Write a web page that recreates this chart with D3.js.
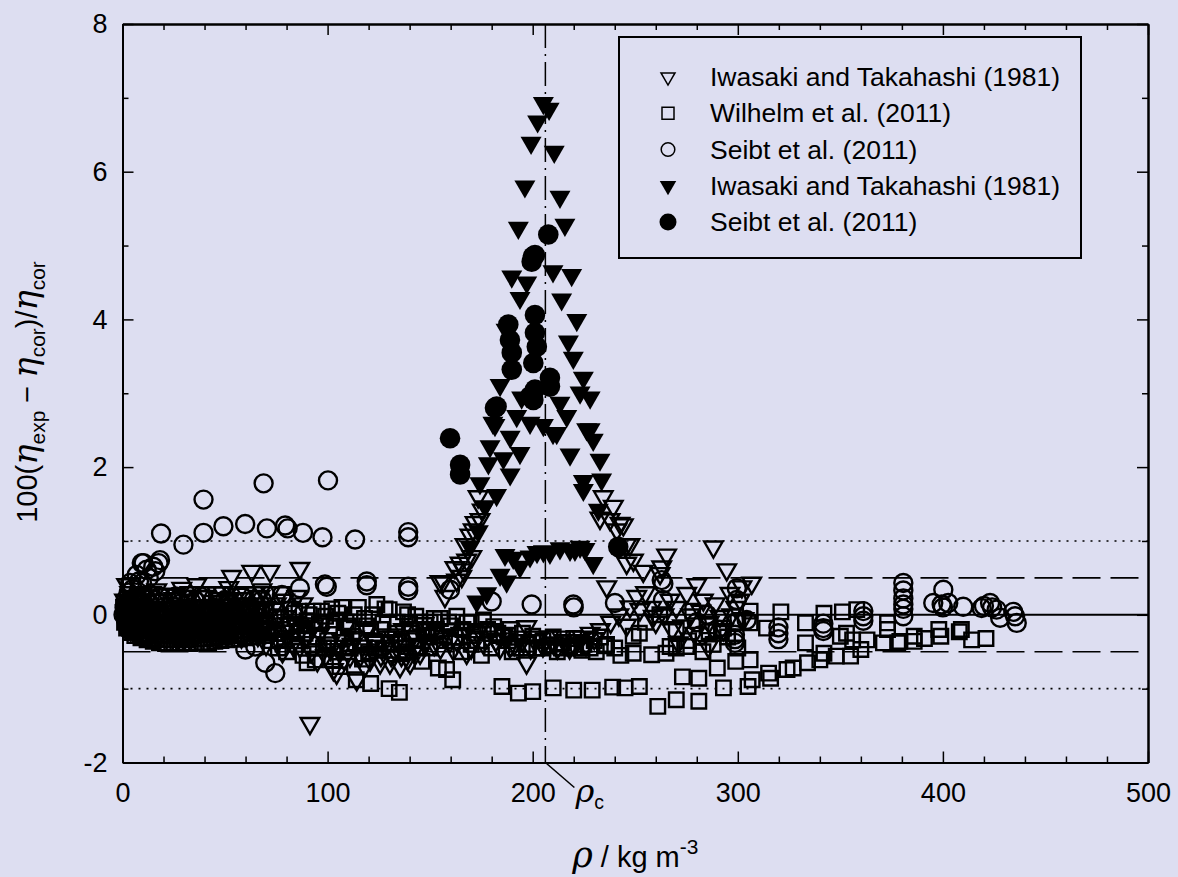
<!DOCTYPE html>
<html>
<head>
<meta charset="utf-8">
<script src="https://cdnjs.cloudflare.com/ajax/libs/d3/7.8.5/d3.min.js"></script>
<style>
html, body { margin: 0; padding: 0; background: #dddef1; }
svg { display: block; }
</style>
</head>
<body>
<svg id="chart" width="1178" height="877"></svg>
<script>
// axis ticks
var xMajorTicks = [0, 100, 200, 300, 400, 500];
var xMinorTicks = [20, 40, 60, 80, 120, 140, 160, 180, 220, 240, 260, 280, 320, 340, 360, 380, 420, 440, 460, 480];
var yMajorTicks = [-2, 0, 2, 4, 6, 8];
var yMinorTicks = [-1, 1, 3, 5, 7];

// reference lines
var solidLevels = [0];
var dashedLevels = [-0.5, 0.5];
var dottedLevels = [-1, 1];
var rhoC = 206.18;

var legendLabels = [
    "Iwasaki and Takahashi (1981)",
    "Wilhelm et al. (2011)",
    "Seibt et al. (2011)",
    "Iwasaki and Takahashi (1981)",
    "Seibt et al. (2011)"
];

// Iwasaki and Takahashi, open triangles [rho, dev]
var iwasakiOpen = [
    [1,0.2],[2,0.41],[2.5,-0.05],[3,0.1],[4,0.25],[5,0.0],[6,0.15],[7,-0.1],[8,0.3],[9,0.05],[10,0.2],[11,-0.15],
    [12,-0.05],[13,0.25],[15,0.1],[16.7,0.34],[18,0.0],[19,-0.2],[20,0.2],[22,-0.1],[24,0.15],[26,0.28],[28.9,0.36],
    [30,0.05],[31,-0.22],[32,0.2],[34,-0.08],[36.2,0.41],[38,0.12],[40,0.25],[42,-0.05],[43,-0.25],[44,0.18],[46,0.3],
    [48,0.08],[50,-0.15],[51.8,0.37],[53.2,0.52],[55,0.15],[57,-0.1],[59,0.22],[61,0.05],[62,-0.2],[63,0.59],[65,0.3],
    [68,0.34],[70,0.1],[71.9,0.59],[73,-0.25],[75,0.15],[77,0.3],[80,-0.29],[82,0.1],[84,-0.1],[86.5,0.63],[86.5,-0.43],
    [88,0.15],[90,-0.3],[91.4,-1.47],[93,-0.15],[96.3,-0.25],[98,-0.07],[101,-0.38],[101.5,-0.47],[102.8,-0.74],
    [104.4,-0.79],[107,-0.35],[109,-0.15],[110.9,-0.56],[113,-0.3],[114.2,-0.88],[117,-0.42],[119,-0.2],[120.7,-0.61],
    [123,-0.35],[125.6,-0.65],[128,-0.45],[130.4,-0.65],[132,-0.3],[133,-0.5],[135.3,-0.7],[137,-0.2],[138.6,-0.43],
    [140.2,-0.65],[143,-0.3],[145.1,-0.52],[147,-0.12],[149.9,-0.2],[152,-0.4],[154.8,0.45],[156.3,0.45],[156.4,-0.29],
    [157.2,0.25],[159.7,-0.36],[161.3,-0.47],[162.1,0.64],[162.9,0.47],[164.6,0.7],[165,-0.25],[165.4,0.52],[166.2,0.61],
    [167,0.95],[167.8,0.74],[167.8,-0.52],[169.4,1.08],[170.3,0.79],[171,1.15],[171.9,1.25],[172,-0.3],[173.4,1.6],
    [174.3,1.29],[175.4,1.42],[175.9,-0.38],[180,-0.2],[184,-0.45],[188.9,-0.43],[193,-0.3],[197,-0.65],[197.1,-0.16],
    [201,-0.35],[205,-0.42],[208,-0.3],[212,-0.45],[216,-0.35],[220,-0.4],[224,-0.3],[228,-0.25],[232.8,1.31],[233,-0.2],
    [234.4,1.6],[236.1,0.38],[237.7,1.29],[238,-0.1],[239.3,1.47],[241,1.15],[242,0.0],[242.6,1.24],[244.2,1.22],
    [245.8,0.95],[245.8,0.7],[245.8,-0.14],[247.4,0.95],[247.4,0.11],[249.1,0.74],[250.7,0.25],[252.3,0.07],[253.9,0.59],
    [255,0.3],[258,0.1],[258.8,-0.02],[260,-0.1],[262.1,0.56],[262.9,0.65],[264,0.0],[265.3,0.81],[266.9,0.2],[268,-0.2],
    [270,0.1],[271,-0.38],[273,-0.15],[275.1,0.29],[277,0.0],[279,-0.25],[280,0.41],[282,0.05],[283.2,0.2],[285.6,-0.43],
    [286,-0.1],[288.1,0.92],[289,0.15],[291.3,-0.02],[293,-0.2],[294.6,0.61],[296.2,0.29],[297,0.0],[299,0.1],
    [301.1,0.2],[302,0.38],[303,-0.05],[306.8,0.43],
    [1.5,0.05],[3.5,0.3],[5.5,0.22],[7.5,0.12],[9.5,0.28],[11.5,0.18],[14,0.3],[17,0.2],[21,0.27],[23,0.05],[25,0.22],
    [27,0.12],[29,0.25],[33,0.3],[35,0.12],[37,0.25],[39,0.05],[41,0.3],[45,0.1],[47,0.22],[49,0.3],[52,0.2],[54,0.05],
    [56,0.28],[58,0.1],[60,0.3],[64,0.15],[66,0.05],[67,0.25],[69,-0.1],[72,0.3],[76,0.0],[79,0.2],[81,-0.12],[85,0.25],
    [87,-0.2],
    [4,-0.2],[8,-0.25],[14,-0.28],[17,-0.3],[26,-0.3],[35,-0.3],[38,-0.22],[47,-0.3],[53,-0.25],[58,-0.3],[66,-0.28],
    [70,-0.4],[76,-0.35],[78,-0.5],[83,-0.4],[92,-0.5],[95,-0.62],[99,-0.55],[106,-0.5],[108,-0.6],[112,-0.4],
    [116,-0.55],[118,-0.7],[122,-0.5],[126,-0.55],[129,-0.3],[131,-0.55],[134,-0.35],[136,-0.55],[139,-0.6],[142,-0.5],
    [144,-0.4],[148,-0.35],[151,-0.25],[155,-0.45],[158,-0.2],[163,-0.35],[168,-0.2],[170,-0.45],[174,-0.2],[178,-0.3],
    [182,-0.35],[186,-0.25],[191,-0.4],[195,-0.35],[199,-0.45],[203,-0.3],[210,-0.38],[214,-0.3],[218,-0.45],
    [222,-0.35],[226,-0.4],[230,-0.32]
];

// Wilhelm et al., open squares
var wilhelm = [
    [2,-0.18],[4,-0.24],[6,-0.28],[9,-0.31],[12,-0.34],[15,-0.36],[18,-0.38],[21,-0.39],[24,-0.38],[27,-0.39],[30,-0.38],
    [33,-0.39],[36,-0.38],[39,-0.37],[42,-0.38],[45,-0.36],[48,-0.35],[51,-0.34],[54,-0.33],[57,-0.33],[60,-0.31],
    [63,-0.3],[66,-0.29],[69,-0.28],
    [2.5,-0.12],[4.5,-0.18],[6.5,-0.22],[8.5,-0.26],[10.5,-0.3],[13.5,-0.32],[16.5,-0.33],[19.5,-0.34],[22.5,-0.33],
    [25.5,-0.34],[28.5,-0.33],[31.5,-0.34],[34.5,-0.33],[37.5,-0.32],[40.5,-0.33],[43.5,-0.31],[46.5,-0.3],[49.5,-0.3],
    [52.5,-0.28],[55.5,-0.28],[58.5,-0.26],[61.5,-0.25],[64.5,-0.24],[67.5,-0.23],[70.5,-0.22],
    [1,-0.1],[3,-0.15],[5,-0.2],[7,-0.22],[10,-0.25],[13,-0.27],[16,-0.28],[19,-0.27],[22,-0.29],[25,-0.28],[28,-0.27],
    [31,-0.29],[34,-0.28],[37,-0.26],[40,-0.27],[43,-0.25],[46,-0.24],[49,-0.25],[52,-0.23],[55,-0.22],[58,-0.21],
    [62,-0.2],[65,-0.19],[68,-0.18],
    [1.5,-0.05],[3.5,-0.1],[5.5,-0.14],[7.5,-0.17],[9.5,-0.19],[12.5,-0.21],[15.5,-0.22],[18.5,-0.21],[21.5,-0.23],
    [24.5,-0.22],[27.5,-0.21],[30.5,-0.22],[33.5,-0.21],[36.5,-0.2],[39.5,-0.2],[42.5,-0.19],[45.5,-0.18],[48.5,-0.18],
    [51.5,-0.17],[54.5,-0.16],[57.5,-0.15],[60.5,-0.15],[64,-0.13],[68,-0.12],[72,-0.2],
    [1,0.0],[2,-0.05],[4,-0.08],[6,-0.1],[8,-0.12],[11,-0.14],[14,-0.15],[17,-0.16],[20,-0.15],[23,-0.17],[26,-0.16],
    [29,-0.15],[32,-0.14],[35,-0.15],[38,-0.13],[41,-0.14],[44,-0.12],[47,-0.11],[50,-0.12],[53,-0.1],[56,-0.09],
    [59,-0.1],[63,-0.08],[67,-0.07],
    [0.5,0.1],[2,0.05],[3,0.02],[5,0.0],[7,-0.02],[9,-0.03],[12,-0.04],[15,-0.03],[18,-0.05],[21,-0.04],[24,-0.02],
    [27,-0.04],[30,-0.03],[33,-0.02],[36,-0.03],[39,-0.01],[42,0.0],[45,-0.02],[48,0.01],[51,0.02],[54,0.0],[57,0.03],
    [61,0.02],[65,0.04],
    [1.5,0.08],[4,0.04],[6,0.03],[8,0.02],[10,0.02],[13,0.01],[16,0.02],[19,0.0],[22,0.02],[25,0.03],[29,0.01],[31,0.03],
    [34,0.04],[37,0.03],[41,0.05],[43,0.04],[46,0.05],[50,0.06],[53,0.05],[58,0.07],[62,0.06],[66,0.08],[70,0.05],
    [1,0.15],[3,0.12],[5,0.1],[8,0.08],[11,0.09],[14,0.07],[17,0.08],[20,0.06],[24,0.08],[28,0.07],[32,0.09],[36,0.08],
    [40,0.1],[44,0.09],[48,0.11],[52,0.1],[56,0.12],[60,0.11],
    [72,-0.1],[75,0.05],[78,-0.2],[81,-0.05],[84,0.02],[87,-0.15],[90,-0.08],[93,0.05],[96,-0.12],[99,-0.02],[102,0.08],
    [104,-0.07],[107,0.1],[110,-0.15],[112,-0.29],[115,0.1],[118,-0.05],[121,-0.2],[124,0.14],[127,-0.1],[130,0.07],
    [133,-0.25],[137,0.04],[140,-0.12],[143,-0.02],[147,-0.2],[150,-0.1],[155,-0.05],[160,-0.15],[163,-0.02],
    [168,-0.11],[172,-0.25],[176,-0.07],[181,-0.16],[186,-0.3],[189,-0.2],[195,-0.25],[200,-0.29],[205,-0.35],
    [210,-0.3],[215,-0.38],[220,-0.32],[225,-0.4],[230,-0.35],[235,-0.42],
    [74,-0.25],[77,-0.05],[79,-0.35],[82,-0.15],[85,-0.3],[86,0.05],[89,-0.25],[91,0.0],[92,-0.4],[95,-0.3],[97,0.05],
    [100,-0.35],[101,-0.15],[103,-0.45],[105,0.02],[108,-0.3],[109,-0.1],[111,-0.45],[113,0.0],[116,-0.35],[119,-0.15],
    [120,-0.5],[122,0.0],[123,-0.35],[126,-0.2],[128,0.08],[131,-0.4],[134,-0.1],[136,-0.35],[139,0.0],[141,-0.25],
    [144,-0.45],[145,-0.1],[149,-0.3],[152,-0.05],[153,-0.2],[157,-0.35],[159,-0.1],[162,-0.3],[166,-0.2],[170,-0.1],
    [173,-0.35],[178,-0.2],[183,-0.25],[188,-0.35],[192,-0.45],[198,-0.4],[202,-0.45],[208,-0.42],[214,-0.45],
    [220,-0.45],[228,-0.45],[233,-0.3],[240,-0.45],
    [72,-0.35],[76,-0.45],[80,-0.5],[84,-0.4],[88,-0.55],[90,-0.65],[94,-0.61],[98,-0.45],[102,-0.61],[106,-0.7],
    [110,-0.5],[114,-0.88],[117,-0.6],[121,-0.93],[125,-0.45],[130,-1.0],[135,-1.05],[138,-0.5],[142,-0.35],[146,-0.63],
    [150,-0.45],[154,-0.72],[158,-0.74],[161,-0.88],[165,-0.5],[170,-0.4],[175,-0.55],[180,-0.45],[185,-0.97],
    [190,-0.5],[193,-1.06],[197,-0.45],[200,-1.04],
    [210,-0.99],[220,-1.02],[229,-1.02],[239,-0.98],[245,-0.99],[252,-0.97],[261,-1.24],[270,-1.15],[281,-1.17],
    [273,-0.84],[281,-0.86],[290,-0.72],[293,-0.99],[299,-0.63],[305,-0.97],[306,-0.61],[307,-0.88],[315,-0.79],
    [316,-0.86],[324,-0.74],[327,-0.72],[334,-0.65],[340,-0.61],[342,-0.52],[348,-0.56],[355,-0.56],[360,-0.47],
    [356,-0.34],[363,-0.34],[371,-0.38],[373,-0.2],[378,-0.38],[379,-0.36],[386,-0.29],[386,-0.36],[391,-0.32],
    [398,-0.2],[399,-0.29],[408,-0.23],[409,-0.2],[414,-0.34],[421,-0.32],
    [205,-0.45],[212,-0.5],[218,-0.42],[224,-0.48],[231,-0.5],[236,-0.4],[243,-0.55],[249,-0.29],[249,-0.52],
    [252,-0.25],[258,-0.54],[265,-0.52],[267,-0.43],[270,-0.45],[275,-0.43],[276,-0.35],[283,-0.5],[286,-0.23],
    [288,-0.4],[293,-0.18],[295,-0.3],[300,-0.45],[306,-0.11],
    [255,-0.1],[262,0.0],[270,-0.2],[278,0.05],[285,-0.15],[292,-0.25],[300,-0.1],[306,0.05],[314,-0.18],[321,0.04],
    [333,-0.11],[333,-0.38],[342,0.02],[351,0.04],[353,-0.25],[358,0.07],[350,-0.29],[373,-0.11]
];

// Seibt et al., open circles
var seibtOpen = [
    [0.5,0.0],[1,0.1],[1.5,0.2],[2,0.15],[3,0.3],[3.7,0.43],[5,0.35],[6.9,0.54],[8,0.45],[9.5,0.43],[9.4,0.7],
    [10.3,0.7],[11.8,0.61],[12.8,0.5],[15,0.65],[16,0.59],[17.6,0.7],[18.3,0.74],[18.8,1.1],
    [2,-0.1],[4,0.05],[6,-0.05],[8,0.15],[10,0.1],[13,0.0],[16,0.2],[20,0.1],[24,-0.05],[28,0.15],[32,0.05],[36,0.18],
    [40,-0.1],[44,0.1],[48,0.0],[52,0.15],[56,-0.05],[60,0.1],[64,0.2],[68,0.2],[59.9,-0.47],[64.7,-0.43],[69.6,-0.65],
    [74.5,-0.79],
    [3,-0.2],[5,0.1],[7,0.2],[9,-0.15],[11,0.25],[14,-0.1],[18,0.25],[22,0.05],[26,0.25],[30,-0.15],[34,0.1],[38,0.25],
    [42,0.05],[46,-0.2],[50,0.2],[54,0.0],[58,0.25],[62,-0.15],[66,0.05],[70,-0.2],
    [29.7,0.95],[39.5,1.11],[39.5,1.56],[49.2,1.2],[59.8,1.23],[70.4,1.17],[68.8,1.78],[79.3,1.21],[80.5,1.17],[88,1.11],
    [97.5,1.05],[100.2,1.82],[113.4,1.02],[139.3,1.05],[139.3,1.12],
    [77.7,0.27],[86.5,0.36],[98.7,0.41],[99.6,0.38],[119.1,0.45],[119.1,0.4],[139.3,0.38],[139.3,0.33],[159.7,0.34],
    [180,0.18],[199.5,0.14],[219.8,0.14],[220,0.1],[240.1,0.16],[262.9,0.47],[263.7,0.42],[263.5,0.2],[299.5,0.36],
    [299.5,0.2],
    [280,-0.1],[281.6,-0.28],[285,0.0],[290,-0.2],[298.6,-0.27],[298.6,-0.33],[298.6,-0.38],[299,-0.1],[304.3,-0.07],
    [319.8,-0.17],[319.8,-0.25],[319.8,-0.33],[341.7,-0.12],[341.7,-0.18],[341.7,-0.22],[361.2,0.05],[361.2,-0.02],
    [361.2,-0.08],[380.7,0.43],[380.7,0.33],[380.7,0.22],[380.7,0.14],[380.7,0.08],[380.7,-0.02],[395.3,0.16],
    [399.4,0.14],[400.2,0.34],[402.6,0.16],[400,0.1],[409.9,0.11],[418.9,0.09],[420,0.12],[423,0.16],[424,0.1],
    [426.2,0.07],[427.9,-0.04],[434.3,0.04],[435.2,-0.02],[436,-0.11]
];

// Iwasaki and Takahashi, filled triangles (near critical)
var iwasakiFilled = [
    [205.2,6.93],[208,6.85],[202.4,6.68],[199.2,6.39],[210.5,6.27],[196.2,5.8],[213.3,5.66],[193,5.24],[215.7,5.28],
    [189.8,4.58],[197.1,4.5],[209.9,4.65],[219,4.6],[193.8,4.29],[214.1,4.27],[221.5,3.99],[187,3.86],[217.4,3.7],
    [219.8,3.48],[184.1,3.11],[224.7,3.21],[223.1,3.01],[228,2.94],[194.6,2.94],[213.3,2.87],[192.2,2.69],[216.6,2.69],
    [180.6,2.6],[198.7,2.6],[209.9,2.46],[228,2.51],[181.6,2.57],[189,2.41],[205.2,2.57],[211.7,2.46],[226.3,2.51],
    [229.5,2.37],[179.2,2.28],[193.8,2.19],[185.7,2.12],[178.4,2.05],[189,1.9],[218.2,2.17],[232.8,2.1],[174.3,1.78],
    [182.4,1.62],[176.7,1.47],[224.7,1.81],[233.6,1.83],[224.7,1.69],[232,1.42],[173.5,1.13],[169.4,0.92],
    [190.5,0.77],[193.8,0.65],[198.7,0.79],[205.2,0.86],[213.3,0.9],[218.2,0.88],[223.1,0.92],[229.5,0.7],[184.1,0.54],
    [187.3,0.45],[177.6,0.29],[172.7,0.18],[186.5,0.81],[202.1,0.85],[208.4,0.84],[220.6,0.88],[225.5,0.89]
];

// Seibt et al., filled circles (near critical)
var seibtFilled = [
    [207.6,5.15],[200.1,4.85],[201.1,4.87],[199.5,4.78],[201.1,4.06],[188.1,3.93],[201.1,3.82],[188.9,3.72],[202,3.63],
    [189.8,3.55],[189.8,3.32],[200.3,3.41],[208.4,3.21],[201.1,3.05],[200.3,2.91],[181.6,2.8],[159.7,2.39],[164.6,2.03],
    [164.6,1.9],[241.7,0.92],[198.7,2.96],[208.4,3.09],[182.4,2.82]
];

var W = 1178, H = 877;
var svg = d3.select("#chart");
var sans = "'Liberation Sans', Arial, Helvetica, sans-serif";
var greek = "'DejaVu Serif', 'Liberation Serif', serif";

var x = d3.scaleLinear().domain([0, 500]).range([122.5, 1148]);
var y = d3.scaleLinear().domain([-2, 8]).range([762.5, 24]);

svg.append("rect").attr("width", W).attr("height", H).attr("fill", "#dddef1");

// reference lines
var lines = svg.append("g").attr("stroke", "#000").attr("fill", "none");
lines.selectAll(".solid").data(solidLevels).join("line")
    .attr("x1", x(0)).attr("x2", x(500))
    .attr("y1", d => y(d)).attr("y2", d => y(d))
    .attr("stroke-width", 2);
lines.selectAll(".dash").data(dashedLevels).join("line").attr("class", "dash")
    .attr("x1", x(0)).attr("x2", x(500))
    .attr("y1", d => y(d)).attr("y2", d => y(d))
    .attr("stroke-width", 1.6).attr("stroke-dasharray", "28,10");
lines.selectAll(".dot").data(dottedLevels).join("line").attr("class", "dot")
    .attr("x1", x(0)).attr("x2", x(500))
    .attr("y1", d => y(d)).attr("y2", d => y(d))
    .attr("stroke-width", 1.6).attr("stroke-dasharray", "2,6");
lines.append("line")
    .attr("x1", x(rhoC)).attr("x2", x(rhoC))
    .attr("y1", y(8)).attr("y2", y(-2))
    .attr("stroke-width", 1.5).attr("stroke-dasharray", "24,6,2,6");

// marker shapes
var triPath = s => {
    let h = s * Math.sqrt(3) / 2;
    return `M${-s / 2},${-h / 3}L${s / 2},${-h / 3}L0,${2 * h / 3}Z`;
};
var sqPath = s => `M${-s / 2},${-s / 2}h${s}v${s}h${-s}Z`;
var circPath = r => `M${r},0A${r},${r} 0 1,1 ${-r},0A${r},${r} 0 1,1 ${r},0Z`;

var series = [
    {data: iwasakiOpen, d: triPath(18.5), fill: "none", sw: 2.4, leg: triPath(14)},
    {data: wilhelm, d: sqPath(14.5), fill: "none", sw: 2.4, leg: sqPath(12)},
    {data: seibtOpen, d: circPath(9), fill: "none", sw: 2.4, leg: circPath(6.8)},
    {data: iwasakiFilled, d: triPath(21), fill: "#000", sw: 0, leg: triPath(16.5)},
    {data: seibtFilled, d: circPath(10.3), fill: "#000", sw: 0, leg: circPath(8.5)}
];

series.forEach(s => {
    svg.append("g")
        .selectAll("path")
        .data(s.data)
        .join("path")
        .attr("transform", d => `translate(${x(d[0])},${y(d[1])})`)
        .attr("d", s.d)
        .attr("fill", s.fill)
        .attr("stroke", s.sw ? "#000" : "none")
        .attr("stroke-width", s.sw);
});

// axes, ticks inward
function styleAxis(g) {
    g.select(".domain").attr("stroke-width", 2).attr("stroke", "#000");
    g.selectAll(".tick line").attr("stroke-width", 1.5).attr("stroke", "#000");
    g.selectAll(".tick text").attr("font-family", sans).attr("font-size", 27).attr("fill", "#000");
}

var gx = svg.append("g").attr("transform", `translate(0,${y(-2)})`)
    .call(d3.axisBottom(x).tickValues(xMajorTicks).tickSize(-11).tickSizeOuter(0).tickPadding(20).tickFormat(d3.format("d")));
styleAxis(gx);
var gxm = svg.append("g").attr("transform", `translate(0,${y(-2)})`)
    .call(d3.axisBottom(x).tickValues(xMinorTicks).tickSize(-6).tickSizeOuter(0).tickFormat(""));
styleAxis(gxm);
var gxt = svg.append("g").attr("transform", `translate(0,${y(8)})`)
    .call(d3.axisTop(x).tickValues(xMajorTicks).tickSize(-11).tickSizeOuter(0).tickFormat(""));
styleAxis(gxt);
var gxtm = svg.append("g").attr("transform", `translate(0,${y(8)})`)
    .call(d3.axisTop(x).tickValues(xMinorTicks).tickSize(-6).tickSizeOuter(0).tickFormat(""));
styleAxis(gxtm);

var gy = svg.append("g").attr("transform", `translate(${x(0)},0)`)
    .call(d3.axisLeft(y).tickValues(yMajorTicks).tickSize(-11).tickSizeOuter(0).tickPadding(15).tickFormat(d3.format("d")));
styleAxis(gy);
gy.selectAll(".tick text").text(d => d < 0 ? "-" + Math.abs(d) : d);
var gym = svg.append("g").attr("transform", `translate(${x(0)},0)`)
    .call(d3.axisLeft(y).tickValues(yMinorTicks).tickSize(-6).tickSizeOuter(0).tickFormat(""));
styleAxis(gym);
var gyr = svg.append("g").attr("transform", `translate(${x(500)},0)`)
    .call(d3.axisRight(y).tickValues(yMajorTicks).tickSize(-11).tickSizeOuter(0).tickFormat(""));
styleAxis(gyr);
var gyrm = svg.append("g").attr("transform", `translate(${x(500)},0)`)
    .call(d3.axisRight(y).tickValues(yMinorTicks).tickSize(-6).tickSizeOuter(0).tickFormat(""));
styleAxis(gyrm);

// rich text helper: parts {t, gr, sub, sup, back}
function rich(sel, parts, size, grSize) {
    let small = size * 0.72;
    parts.forEach(p => {
        let ts = sel.append("tspan").text(p.t);
        if (p.gr) ts.attr("font-family", greek).attr("font-style", "italic").attr("font-size", grSize);
        if (p.sub) ts.attr("font-size", small).attr("dy", size * 0.27);
        if (p.sup) ts.attr("font-size", small).attr("dy", -size * 0.45);
        if (p.back) ts.attr("dy", p.back);
    });
}

// y label
var yl = svg.append("text")
    .attr("transform", "translate(37,392) rotate(-90)")
    .attr("text-anchor", "middle")
    .attr("font-family", sans).attr("font-size", 29);
rich(yl, [
    {t: "100("},
    {t: "\u03B7", gr: true},
    {t: "exp", sub: true},
    {t: " \u2212 ", back: -29 * 0.27},
    {t: "\u03B7", gr: true},
    {t: "cor", sub: true},
    {t: ")/", back: -29 * 0.27},
    {t: "\u03B7", gr: true},
    {t: "cor", sub: true}
], 29, 34);

// x label
var xl = svg.append("text")
    .attr("x", (x(0) + x(500)) / 2).attr("y", 867)
    .attr("text-anchor", "middle")
    .attr("font-family", sans).attr("font-size", 29);
rich(xl, [
    {t: "\u03C1", gr: true},
    {t: " / kg m"},
    {t: "-3", sup: true}
], 29, 35);

// rho_c marker
svg.append("line")
    .attr("x1", x(rhoC)).attr("y1", y(-2))
    .attr("x2", x(rhoC) + 29).attr("y2", y(-2) + 25)
    .attr("stroke", "#000").attr("stroke-width", 1.5);
var rc = svg.append("text")
    .attr("x", x(rhoC) + 30).attr("y", 802)
    .attr("font-family", sans).attr("font-size", 27);
rich(rc, [{t: "\u03C1", gr: true}, {t: "c", sub: true}], 27, 32);

// legend
var leg = svg.append("g");
leg.append("rect")
    .attr("x", 619).attr("y", 37).attr("width", 462).attr("height", 221)
    .attr("fill", "#dddef1").attr("stroke", "#000").attr("stroke-width", 2);
var rowY = d3.scaleLinear().domain([0, 4]).range([77, 222]);
legendLabels.forEach((lab, i) => {
    let s = series[i];
    leg.append("path")
        .attr("transform", `translate(668,${rowY(i)})`)
        .attr("d", s.leg)
        .attr("fill", s.fill)
        .attr("stroke", s.sw ? "#000" : "none")
        .attr("stroke-width", 1.5);
    leg.append("text")
        .attr("x", 710).attr("y", rowY(i) + 9)
        .attr("font-family", sans).attr("font-size", 26.5)
        .text(lab);
});
</script>
</body>
</html>
